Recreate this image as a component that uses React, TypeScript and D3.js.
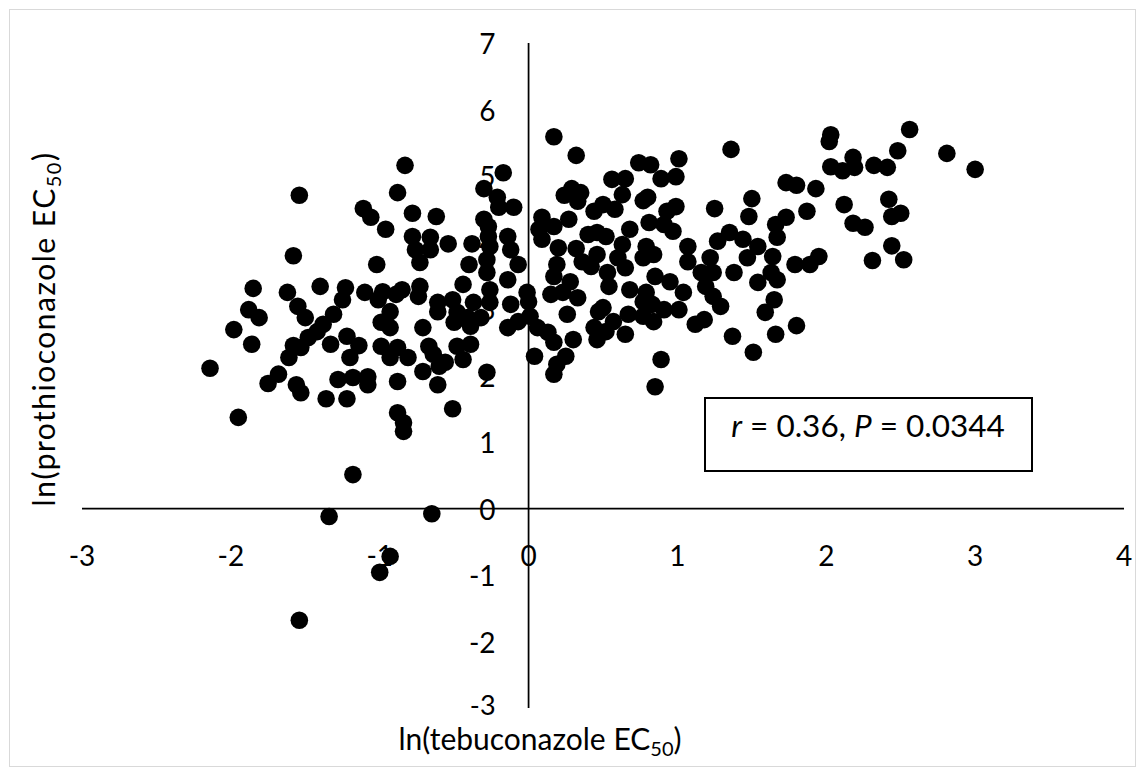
import React from "react";
import * as d3 from "d3";

// ln(EC50) of tebuconazole (x) and prothioconazole (y) for each isolate
const lnTebuconazole: number[] = [
  -1.54, -1.11, -1.06, -0.96, -1.58, -1.02, -0.88, -0.83, 0.17, 0.32,
  -0.17, -0.30, -0.21, -0.20, -0.10, -0.78, -0.62, -0.30, -0.27, 0.29,
  0.35, 0.24, 0.33, 0.44, 0.09, 0.27, 0.07, 0.17, 0.09, 0.46,
  0.40, -0.78, -0.66, -0.54, -0.38, -0.27, -0.14, -0.76, -0.66, -0.26,
  -0.12, -0.73, -0.40, -0.28, -0.07, 0.20, 0.32, 0.19, 0.36, 0.46,
  1.36, 0.74, 0.82, 1.01, 0.56, 0.65, 0.89, 0.99, 0.63, 0.77,
  0.80, 0.50, 0.58, 0.93, 0.99, 1.25, 1.50, 1.48, 1.73, 1.80,
  1.73, 1.66, 0.81, 0.91, 0.97, 0.68, 0.52, 0.63, 1.27, 1.35,
  1.44, 1.54, 1.67, 1.07, 0.79, 0.84, 0.60, 0.77, 1.07, 1.22,
  1.47, 1.64, 1.79, 2.56, 2.03, 2.02, 2.48, 2.81, 3.00, 2.18,
  2.03, 2.11, 2.19, 2.32, 2.41, 1.93, 2.12, 1.87, 2.42, 2.44,
  2.50, 2.18, 2.26, 2.44, 2.31, 2.52, 1.95, 1.89, -1.85, -1.62,
  -1.40, -1.23, -1.25, -1.10, -0.98, -1.01, -0.89, -1.88, -1.81, -1.55,
  -1.50, -1.98, -1.31, -1.38, -1.42, -1.48, -1.58, -1.61, -1.53, -0.93,
  -0.99, -0.93, -1.33, -1.22, -1.14, -1.20, -0.99, -0.93, -0.88, -1.86,
  -2.14, -1.68, -1.75, -1.56, -1.53, -1.28, -1.18, -1.08, -1.08, -1.36,
  -1.22, -0.88, -1.95, -0.88, -0.28, -0.14, -0.85, -0.73, -0.74, -0.44,
  -0.26, -0.26, -0.61, -0.51, -0.37, -0.12, -0.01, 0.00, -0.71, -0.61,
  -0.48, -0.41, -0.32, -0.50, -0.39, -0.14, -0.07, 0.01, 0.06, 0.13,
  0.17, 0.26, 0.30, 0.17, 0.28, 0.15, 0.23, 0.33, 0.42, 0.47,
  0.44, 0.46, -0.81, -0.67, -0.64, -0.48, -0.39, -0.44, -0.56, -0.60,
  -0.71, -0.61, -0.28, 0.04, 0.25, 0.19, 0.17, -0.51, -0.84, -0.84,
  0.53, 0.54, 0.65, 0.85, 0.95, 1.04, 1.16, 1.24, 1.19, 1.24,
  1.29, 0.68, 0.79, 0.77, 0.83, 0.50, 0.67, 0.77, 0.84, 0.91,
  1.01, 0.57, 0.52, 0.65, 1.12, 1.18, 1.38, 1.54, 1.63, 1.67,
  1.65, 1.59, 1.80, 1.66, 1.37, 1.51, 0.89, 0.85, -1.18, -1.34,
  -0.65, -0.93, -1.00, -1.54,
];

const lnProthioconazole: number[] = [
  4.71, 4.51, 4.38, 4.20, 3.80, 3.67, 4.75, 5.16, 5.59, 5.31,
  5.05, 4.81, 4.68, 4.53, 4.53, 4.44, 4.39, 4.35, 4.24, 4.81,
  4.75, 4.71, 4.62, 4.47, 4.38, 4.35, 4.20, 4.24, 4.05, 4.15,
  4.12, 4.09, 4.08, 3.98, 3.98, 4.09, 4.09, 3.89, 3.89, 3.94,
  3.89, 3.70, 3.67, 3.74, 3.67, 3.92, 3.91, 3.67, 3.71, 3.82,
  5.40, 5.20, 5.17, 5.26, 4.95, 4.96, 4.96, 4.99, 4.72, 4.63,
  4.68, 4.57, 4.50, 4.47, 4.54, 4.51, 4.66, 4.39, 4.90, 4.86,
  4.38, 4.27, 4.30, 4.27, 4.17, 4.20, 4.09, 3.97, 4.02, 4.15,
  4.05, 3.94, 4.08, 3.94, 3.94, 3.82, 3.77, 3.77, 3.71, 3.77,
  3.77, 3.79, 3.67, 5.70, 5.62, 5.52, 5.38, 5.34, 5.10, 5.28,
  5.14, 5.08, 5.13, 5.16, 5.13, 4.81, 4.57, 4.47, 4.65, 4.39,
  4.44, 4.29, 4.23, 3.95, 3.73, 3.74, 3.79, 3.67, 3.31, 3.25,
  3.34, 3.32, 3.14, 3.25, 3.26, 3.14, 3.22, 2.99, 2.87, 3.04,
  2.87, 2.69, 2.92, 2.77, 2.66, 2.57, 2.45, 2.27, 2.42, 2.96,
  2.80, 2.72, 2.47, 2.59, 2.45, 2.27, 2.44, 2.27, 2.42, 2.47,
  2.11, 2.02, 1.88, 1.86, 1.74, 1.94, 1.97, 1.98, 1.86, 1.65,
  1.65, 1.91, 1.37, 1.44, 3.55, 3.44, 3.29, 3.34, 3.19, 3.37,
  3.29, 3.10, 3.10, 3.14, 3.10, 3.07, 3.25, 3.11, 2.72, 2.96,
  2.95, 2.87, 2.87, 2.80, 2.74, 2.72, 2.81, 2.89, 2.72, 2.65,
  2.50, 2.92, 2.54, 3.49, 3.41, 3.22, 3.25, 3.17, 3.64, 2.96,
  2.72, 2.54, 2.27, 2.44, 2.32, 2.44, 2.47, 2.24, 2.20, 2.14,
  2.06, 1.86, 2.05, 2.29, 2.29, 2.17, 2.02, 1.50, 1.29, 1.16,
  3.55, 3.34, 3.62, 3.49, 3.41, 3.25, 3.55, 3.55, 3.34, 3.19,
  3.04, 3.29, 3.25, 3.11, 3.07, 3.02, 2.92, 2.89, 2.81, 2.99,
  2.99, 2.81, 2.66, 2.62, 2.77, 2.84, 3.55, 3.40, 3.55, 3.44,
  3.14, 2.95, 2.75, 2.62, 2.59, 2.35, 2.24, 1.83, 0.51, -0.12,
  -0.08, -0.72, -0.96, -1.68,
];

const xTicks: number[] = [-3, -2, -1, 0, 1, 2, 3, 4];
const yTicks: number[] = [-3, -2, -1, 0, 1, 2, 3, 4, 5, 6, 7];

const statText = { r: "0.36", P: "0.0344" };

const WIDTH = 1145;
const HEIGHT = 776;
const FONT = "Lato, 'Open Sans', sans-serif";

export default function App() {
  const x = d3.scaleLinear().domain([-3, 4]).range([82, 1124]);
  const y = d3.scaleLinear().domain([-3, 7]).range([708, 43]);

  const points = d3.zip(lnTebuconazole, lnProthioconazole);

  return (
    <div style={{ position: "absolute", left: 0, top: 0 }}>
      <svg width={WIDTH} height={HEIGHT} style={{ display: "block", background: "#fff" }}>
        {/* chart frame */}
        <rect x={9.5} y={9.5} width={1126} height={757} fill="#fff" stroke="#d9d9d9" strokeWidth={1} />

        {/* axes crossing at the origin */}
        <line x1={x(-3)} x2={x(4)} y1={y(0)} y2={y(0)} stroke="#000" strokeWidth={1.75} />
        <line x1={x(0)} x2={x(0)} y1={y(7)} y2={y(-3)} stroke="#000" strokeWidth={1.75} />

        {/* x tick labels */}
        {xTicks.map((t) => (
          <text
            key={"x" + t}
            x={x(t)}
            y={y(0) + 46}
            textAnchor="middle"
            dominantBaseline="central"
            fontFamily={FONT}
            fontSize={28}
            fill="#000"
          >
            {t}
          </text>
        ))}

        {/* y tick labels; the bottom one sits a little higher to clear the x title */}
        {yTicks.map((t) => (
          <text
            key={"y" + t}
            x={x(0) - 33}
            y={t === -3 ? y(t) - 4 : y(t)}
            textAnchor="end"
            dominantBaseline="central"
            fontFamily={FONT}
            fontSize={t === -3 ? 27 : 28}
            fill="#000"
          >
            {t}
          </text>
        ))}

        {/* isolates */}
        {points.map(([a, b], i) => (
          <circle key={i} cx={x(a)} cy={y(b)} r={8.8} fill="#000" />
        ))}

        {/* correlation box */}
        <rect x={705} y={398} width={327} height={73} fill="#fff" stroke="#000" strokeWidth={2} />
        <text x={868} y={437} textAnchor="middle" fontFamily={FONT} fontSize={31.5} fill="#000">
          <tspan fontStyle="italic">r</tspan>
          <tspan>{` = ${statText.r}, `}</tspan>
          <tspan fontStyle="italic">P</tspan>
          <tspan>{` = ${statText.P}`}</tspan>
        </text>

        {/* axis titles */}
        <text x={540} y={750} textAnchor="middle" fontFamily={FONT} fontSize={30} fill="#000">
          ln(tebuconazole EC
          <tspan fontSize={20} dy={6}>50</tspan>
          <tspan dy={-6}>)</tspan>
        </text>
        <text
          transform={`translate(55, 329) rotate(-90)`}
          textAnchor="middle"
          fontFamily={FONT}
          fontSize={30}
          letterSpacing={1.5}
          fill="#000"
        >
          ln(prothioconazole EC
          <tspan fontSize={20} dy={6}>50</tspan>
          <tspan dy={-6}>)</tspan>
        </text>
      </svg>
    </div>
  );
}
